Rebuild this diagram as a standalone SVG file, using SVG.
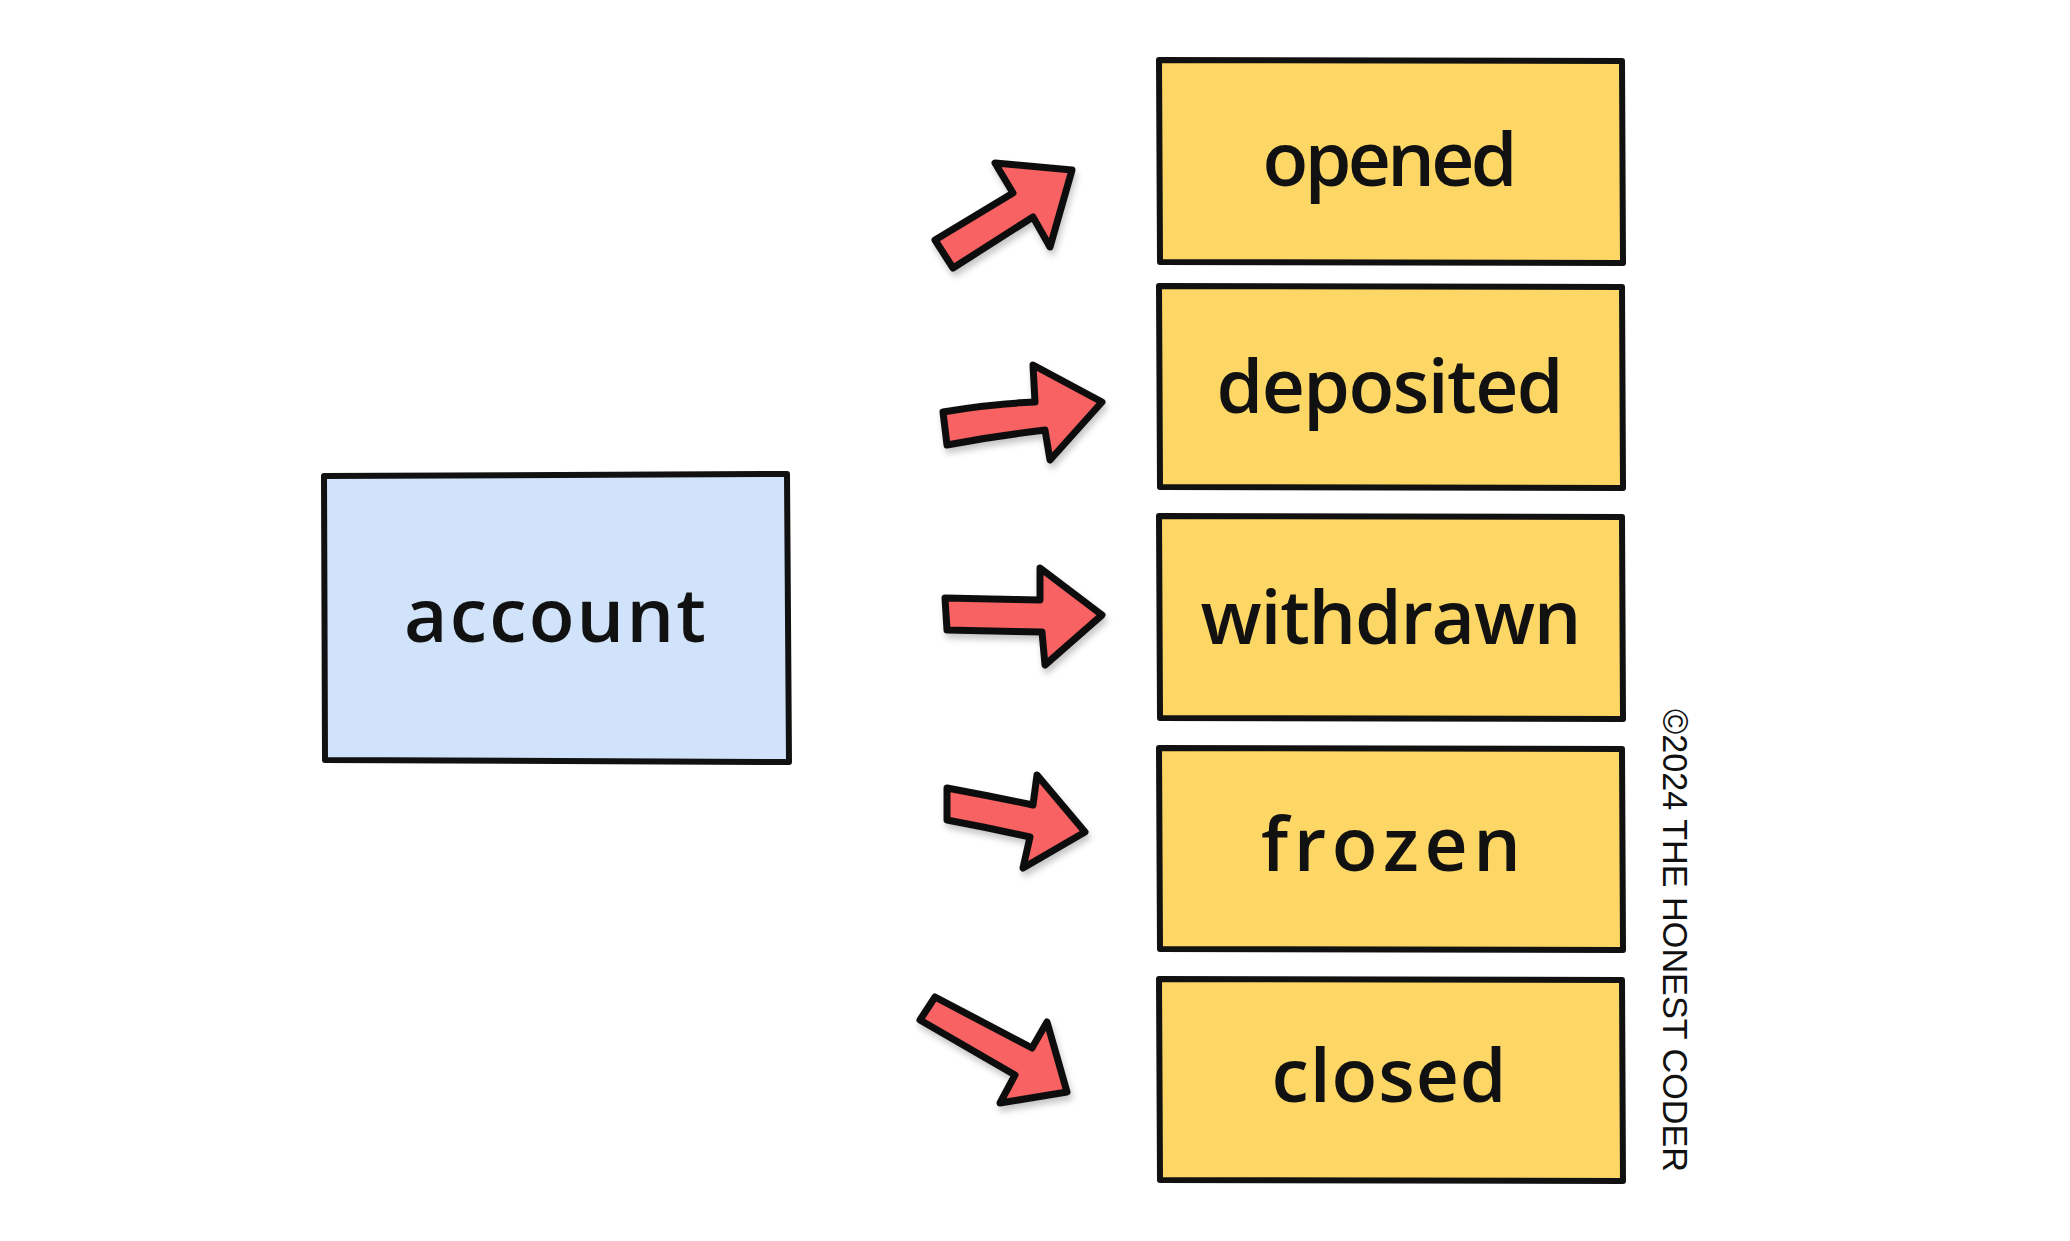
<svg xmlns="http://www.w3.org/2000/svg" width="2070" height="1241" viewBox="0 0 2070 1241">
<defs>
<style>
.box{stroke:#111;stroke-width:6;stroke-linejoin:round;stroke-linecap:round}
.state{fill:#FDD765}
.entity{fill:#D0E3FA}
.lbl{font-family:"Open Sans","Noto Sans",sans-serif;font-weight:600;font-size:75px;fill:#111;text-anchor:middle}
.arrow{fill:#F96262;stroke:#111;stroke-width:7;stroke-linejoin:round;filter:url(#sh)}
.copy{font-family:"Liberation Sans","DejaVu Sans",sans-serif;font-size:35px;fill:#111}
</style>
<filter id="sh" x="-20%" y="-20%" width="150%" height="150%">
<feDropShadow dx="2" dy="5" stdDeviation="3" flood-color="#000" flood-opacity="0.22"/>
</filter>
</defs>
<rect width="2070" height="1241" fill="#fff"/>

<g id="account">
<path class="box entity" d="M324,476 L787,474 L789,762 L325,760 Z"/>
<text class="lbl" x="555" y="642" textLength="302" lengthAdjust="spacing">account</text>
</g>

<g id="opened">
<path class="box state" d="M1159,60 L1622,61 L1623,263 L1160,262 Z"/>
<text class="lbl" x="1390" y="186" textLength="255" lengthAdjust="spacing">opened</text>
</g>

<g id="deposited">
<path class="box state" d="M1159,286 L1622,287 L1623,488 L1160,487 Z"/>
<text class="lbl" x="1390" y="413" textLength="347" lengthAdjust="spacing">deposited</text>
</g>

<g id="withdrawn">
<path class="box state" d="M1159,516 L1622,517 L1623,719 L1160,718 Z"/>
<text class="lbl" x="1391" y="644" textLength="381" lengthAdjust="spacing">withdrawn</text>
</g>

<g id="frozen">
<path class="box state" d="M1159,748 L1622,749 L1623,950 L1160,949 Z"/>
<text class="lbl" x="1391" y="871" textLength="260" lengthAdjust="spacing">frozen</text>
</g>

<g id="closed">
<path class="box state" d="M1159,979 L1622,980 L1623,1181 L1160,1180 Z"/>
<text class="lbl" x="1389" y="1102" textLength="235" lengthAdjust="spacing">closed</text>
</g>

<g id="connectors">
<path class="arrow" d="M935,240 L1013,193 L995,163 L1072,170 L1050,247 L1033,217 L953,268 Z"/>
<path class="arrow" d="M943,412 Q990,404 1035,402 L1033,365 L1102,402 L1050,460 L1045,430 Q995,436 947,445 Z"/>
<path class="arrow" d="M945,598 L1040,600 L1040,568 L1102,615 L1045,665 L1042,632 L947,630 Z"/>
<path class="arrow" d="M947,788 Q990,796 1033,805 L1037,775 L1085,832 L1023,868 L1030,837 Q990,828 947,820 Z"/>
<path class="arrow" d="M935,997 L1032,1048 L1047,1022 L1067,1092 L1000,1103 L1015,1075 L920,1020 Z"/>
</g>

<text class="copy" transform="translate(1663,709) rotate(90)" x="0" y="0" textLength="463" lengthAdjust="spacingAndGlyphs">©2024 THE HONEST CODER</text>
</svg>
